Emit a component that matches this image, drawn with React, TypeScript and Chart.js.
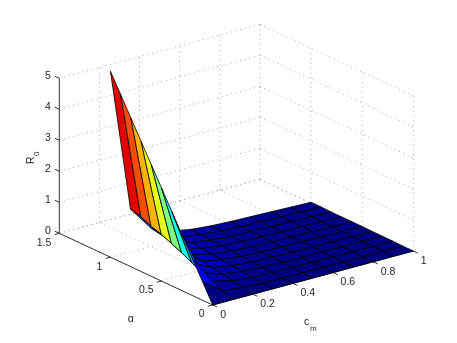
import React, { useEffect, useRef } from "react";
import { Chart, registerables } from "chart.js";

Chart.register(...registerables);

const cmGrid = [0, 0.1, 0.2, 0.3, 0.4, 0.5, 0.6, 0.7, 0.8, 0.9, 1];
const alphaGrid = [0, 0.1, 0.2, 0.3, 0.4, 0.5, 0.6, 0.7, 0.8, 0.9, 1];
// R0 values, one row per alpha, one column per cm
const r0Rows = [
  [0, 0, 0, 0, 0, 0, 0, 0, 0, 0, 0],
  [0.6, 0.14, 0.06, 0.03, 0.02, 0.01, 0.01, 0.01, 0.01, 0.01, 0.0],
  [1.2, 0.28, 0.12, 0.06, 0.04, 0.03, 0.02, 0.02, 0.01, 0.01, 0.01],
  [1.8, 0.41, 0.18, 0.1, 0.06, 0.04, 0.03, 0.03, 0.02, 0.02, 0.01],
  [2.4, 0.57, 0.24, 0.13, 0.08, 0.06, 0.04, 0.04, 0.03, 0.02, 0.01],
  [3.0, 0.74, 0.3, 0.16, 0.1, 0.07, 0.06, 0.05, 0.04, 0.03, 0.02],
  [3.6, 0.89, 0.36, 0.19, 0.12, 0.08, 0.07, 0.05, 0.04, 0.03, 0.02],
  [4.2, 1.03, 0.42, 0.22, 0.14, 0.1, 0.08, 0.06, 0.05, 0.04, 0.02],
  [4.8, 1.14, 0.48, 0.26, 0.16, 0.11, 0.09, 0.07, 0.06, 0.04, 0.02],
  [5.4, 1.29, 0.54, 0.29, 0.18, 0.13, 0.1, 0.08, 0.06, 0.05, 0.03],
  [6.0, 1.38, 0.6, 0.32, 0.2, 0.14, 0.11, 0.09, 0.07, 0.05, 0.03],
];
const cmTicks = [0, 0.2, 0.4, 0.6, 0.8, 1];
const alphaTicks = [0, 0.5, 1, 1.5];
const zTicks = [0, 1, 2, 3, 4, 5];
const CM_MAX = 1;
const ALPHA_MAX = 1.5;
const Z_MAX = 5;
const COLOR_MAX = 6;

// Orthographic view of the 3D box onto the chart's x/y scales
function project(c: number, a: number, z: number) {
  return {
    x: 212.7 + 200.6 * (c / CM_MAX) - 153.4 * (a / ALPHA_MAX),
    y: 305 - 54 * (c / CM_MAX) - 71.7 * (a / ALPHA_MAX) - 31 * z,
  };
}
function depth(c: number, a: number, z: number) {
  const ground = 54 * (c / CM_MAX) + 71.7 * (a / ALPHA_MAX);
  return 2.63 * ground - 11.8 * z;
}
function jet(t: number) {
  const f = (v: number) => Math.round(255 * Math.max(0, Math.min(1, v)));
  const r = 1.5 - Math.abs(4 * t - 3);
  const g = 1.5 - Math.abs(4 * t - 2);
  const b = 1.5 - Math.abs(4 * t - 1);
  return `rgb(${f(r)},${f(g)},${f(b)})`;
}

const lineBase = { showLine: true, pointRadius: 0, fill: false, tension: 0 };

function gridLine(p: number[], q: number[]) {
  return {
    ...lineBase,
    data: [project(p[0], p[1], p[2]), project(q[0], q[1], q[2])],
    borderColor: "#a6a6a6",
    borderWidth: 1,
    borderDash: [1, 3.8],
  };
}
function axisLine(p: { x: number; y: number }, q: { x: number; y: number }) {
  return { ...lineBase, data: [p, q], borderColor: "#333333", borderWidth: 1 };
}

function buildDatasets() {
  const quads: { d: number; ds: any }[] = [];
  for (let i = 0; i < alphaGrid.length - 1; i++) {
    for (let j = 0; j < cmGrid.length - 1; j++) {
      const corners = [
        [cmGrid[j], alphaGrid[i], r0Rows[i][j]],
        [cmGrid[j + 1], alphaGrid[i], r0Rows[i][j + 1]],
        [cmGrid[j + 1], alphaGrid[i + 1], r0Rows[i + 1][j + 1]],
        [cmGrid[j], alphaGrid[i + 1], r0Rows[i + 1][j]],
      ];
      const d = corners.reduce((s, p) => s + depth(p[0], p[1], p[2]), 0) / 4;
      const pts = corners.map((p) => project(p[0], p[1], p[2]));
      pts.push(pts[0]);
      const color = jet(r0Rows[i][j] / COLOR_MAX);
      quads.push({
        d,
        ds: {
          ...lineBase,
          data: pts,
          fill: "shape",
          backgroundColor: color,
          borderColor: "#000000",
          borderWidth: 0.8,
          borderJoinStyle: "round",
        },
      });
    }
  }
  // Chart.js paints the first dataset last, so nearest cells come first
  quads.sort((p, q) => p.d - q.d);
  const surface = quads.map((q) => q.ds);

  const axes: any[] = [];
  axes.push(axisLine(project(0, ALPHA_MAX, 0), project(0, ALPHA_MAX, Z_MAX)));
  axes.push(axisLine(project(0, 0, 0), project(0, ALPHA_MAX, 0)));
  axes.push(axisLine(project(0, 0, 0), project(CM_MAX, 0, 0)));
  for (const z of zTicks) {
    const p = project(0, ALPHA_MAX, z);
    axes.push(axisLine(p, { x: p.x - 4.5, y: p.y - 2.1 }));
  }
  for (const a of alphaTicks) {
    const p = project(0, a, 0);
    axes.push(axisLine(p, { x: p.x - 4.8, y: p.y + 1.3 }));
  }
  for (const c of cmTicks) {
    const p = project(c, 0, 0);
    axes.push(axisLine(p, { x: p.x + 4.5, y: p.y + 2.1 }));
  }

  const grid: any[] = [];
  for (const z of zTicks) {
    grid.push(gridLine([0, ALPHA_MAX, z], [CM_MAX, ALPHA_MAX, z]));
    grid.push(gridLine([CM_MAX, ALPHA_MAX, z], [CM_MAX, 0, z]));
  }
  for (const c of cmTicks) {
    if (c > 0) grid.push(gridLine([c, ALPHA_MAX, 0], [c, ALPHA_MAX, Z_MAX]));
    grid.push(gridLine([c, 0, 0], [c, ALPHA_MAX, 0]));
  }
  for (const a of alphaTicks) {
    if (a < ALPHA_MAX) grid.push(gridLine([CM_MAX, a, 0], [CM_MAX, a, Z_MAX]));
    grid.push(gridLine([0, a, 0], [CM_MAX, a, 0]));
  }
  return [...surface, ...axes, ...grid];
}

const textPlugin = {
  id: "axisText",
  afterDraw(chart: any) {
    const { ctx, scales } = chart;
    const at = (p: { x: number; y: number }) => ({
      x: scales.x.getPixelForValue(p.x),
      y: scales.y.getPixelForValue(p.y),
    });
    const FONT = "Liberation Sans, Arial, sans-serif";
    ctx.save();
    ctx.fillStyle = "#262626";
    ctx.font = `10.5px ${FONT}`;
    ctx.textBaseline = "middle";
    ctx.textAlign = "right";
    for (const z of zTicks) {
      const p = at(project(0, ALPHA_MAX, z));
      ctx.fillText(String(z), p.x - 8.5, p.y - 2.5);
    }
    for (const a of alphaTicks) {
      const p = at(project(0, a, 0));
      ctx.fillText(String(a), p.x - 8, p.y + 9.5);
    }
    ctx.textAlign = "left";
    for (const c of cmTicks) {
      const p = at(project(c, 0, 0));
      ctx.fillText(String(c), p.x + 7.5, p.y + 10);
    }
    ctx.textAlign = "center";
    const alphaPos = at({ x: 130.7, y: 319.5 });
    ctx.fillText("α", alphaPos.x, alphaPos.y);

    ctx.textBaseline = "alphabetic";
    const cPos = at({ x: 304, y: 324.8 });
    ctx.textAlign = "left";
    ctx.fillText("c", cPos.x, cPos.y);
    ctx.font = `8px ${FONT}`;
    ctx.fillText("m", cPos.x + 6, cPos.y + 6);

    const rPos = at({ x: 34, y: 164 });
    ctx.translate(rPos.x, rPos.y);
    ctx.rotate(-Math.PI / 2);
    ctx.font = `10.5px ${FONT}`;
    ctx.fillText("R", 0, 0);
    ctx.font = `8px ${FONT}`;
    ctx.fillText("0", 8, 5);
    ctx.restore();
  },
};

export default function App() {
  const ref = useRef<HTMLCanvasElement>(null);
  useEffect(() => {
    const chart = new Chart(ref.current as HTMLCanvasElement, {
      type: "scatter",
      data: { datasets: buildDatasets() as any },
      options: {
        animation: false,
        responsive: false,
        events: [],
        layout: { padding: 0 },
        plugins: { legend: { display: false }, tooltip: { enabled: false } },
        scales: {
          x: { type: "linear", display: false, min: 0, max: 457 },
          y: { type: "linear", display: false, min: 0, max: 343, reverse: true },
        },
      },
      plugins: [textPlugin],
    } as any);
    return () => chart.destroy();
  }, []);
  return (
    <div style={{ position: "absolute", left: 0, top: 0, width: 457, height: 343, background: "#fff" }}>
      <canvas ref={ref} width={457} height={343} style={{ display: "block" }} />
    </div>
  );
}
